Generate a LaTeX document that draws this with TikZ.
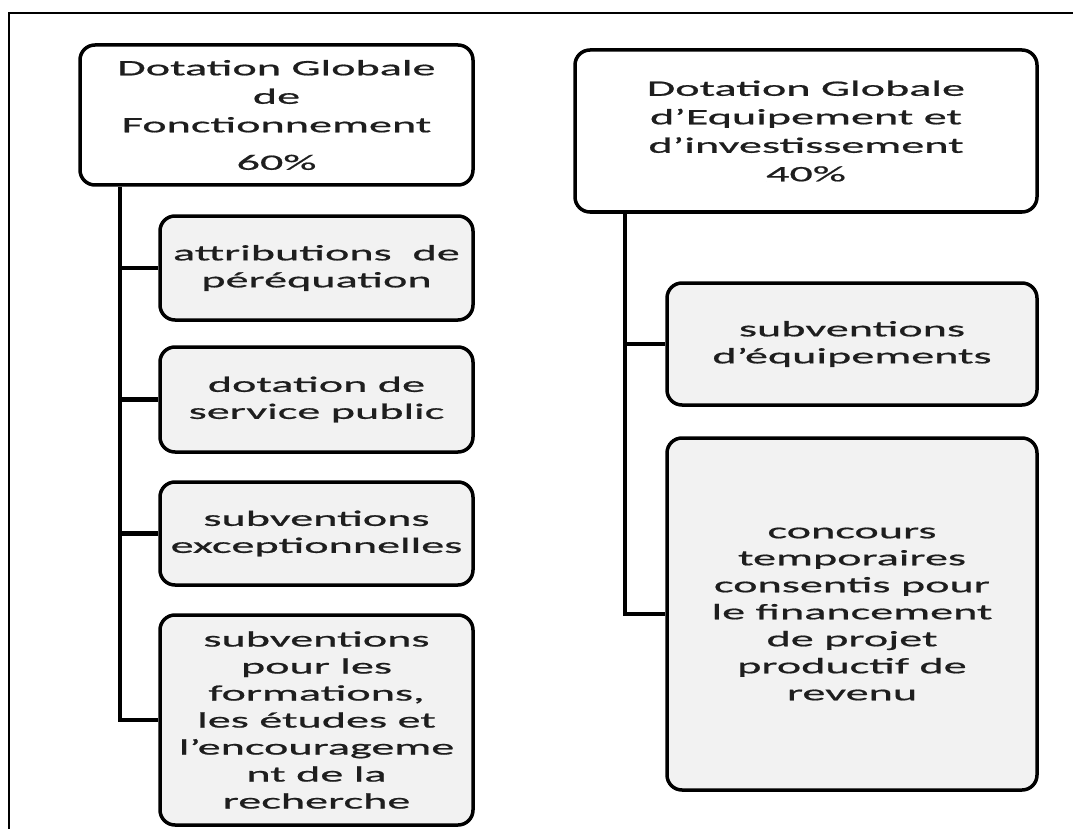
\documentclass[tikz,border=0pt]{standalone}
\usepackage{fontspec}
\newfontfamily\dfont[FakeStretch=2.1,FakeBold=0.8]{Carlito}
\definecolor{boxgray}{HTML}{F2F2F2}
\definecolor{txt}{HTML}{1E1E1E}
\tikzset{
  topbox/.style={draw=black, line width=3.5pt, rounded corners=15pt, fill=white,
    align=center, inner sep=0pt, text=txt,
    font=\dfont\fontsize{22}{28.5}\selectfont},
  subbox/.style={draw=black, line width=3.5pt, rounded corners=15pt, fill=boxgray,
    align=center, inner sep=0pt, text=txt,
    font=\dfont\fontsize{22}{27}\selectfont},
  conn/.style={line width=4.5pt, draw=black, line join=miter},
  frame/.style={line width=2pt, draw=black}
}
\begin{document}
\begin{tikzpicture}[x=1pt,y=-1pt]
\useasboundingbox (0,0) rectangle (1073,829);
\fill[white] (0,0) rectangle (1073,829);
\coordinate (fbl) at (8.5,829);
\coordinate (ftl) at (8.5,13.5);
\coordinate (ftr) at (1073,13.5);
\draw[frame] (fbl) -- (ftl) -- (ftr);

% left column
\node[topbox, minimum width=393pt, minimum height=140pt] (A) at (276.5,115)
  {Dotation Globale\\de\\Fonctionnement\\[9pt]60\%};
\node[subbox, minimum width=313pt, minimum height=104pt] (B1) at (316.5,268)
  {attributions~~de\\péréquation};
\node[subbox, minimum width=313pt, minimum height=105pt] (B2) at (316.5,399.5)
  {dotation de\\service public};
\node[subbox, minimum width=313pt, minimum height=103pt] (B3) at (316.5,533.5)
  {subventions\\exceptionnelles};
\node[subbox, minimum width=313pt, minimum height=210pt] (B4) at (316.5,720)
  {subventions\\pour les\\formations,\\les études et\\l’encourageme\\nt de la\\recherche};

% right column
\node[topbox, minimum width=462pt, minimum height=162pt] (C) at (806,131)
  {Dotation Globale\\d’Equipement et\\d’investissement\\40\%};
\node[subbox, minimum width=370pt, minimum height=122pt] (D1) at (852,344)
  {subventions\\d’équipements};
\node[subbox, minimum width=370pt, minimum height=352pt] (D2) at (852,614)
  {concours\\temporaires\\consentis pour\\le financement\\de projet\\productif de\\revenu};

% connectors
\coordinate (la) at (120,0);
\coordinate (ra) at (625,0);
\draw[conn] (A.south -| la) -- (B4.west -| la) -- (B4.west);
\draw[conn] (B1.west -| la) -- (B1.west);
\draw[conn] (B2.west -| la) -- (B2.west);
\draw[conn] (B3.west -| la) -- (B3.west);
\draw[conn] (C.south -| ra) -- (D2.west -| ra) -- (D2.west);
\draw[conn] (D1.west -| ra) -- (D1.west);
\end{tikzpicture}
\end{document}
